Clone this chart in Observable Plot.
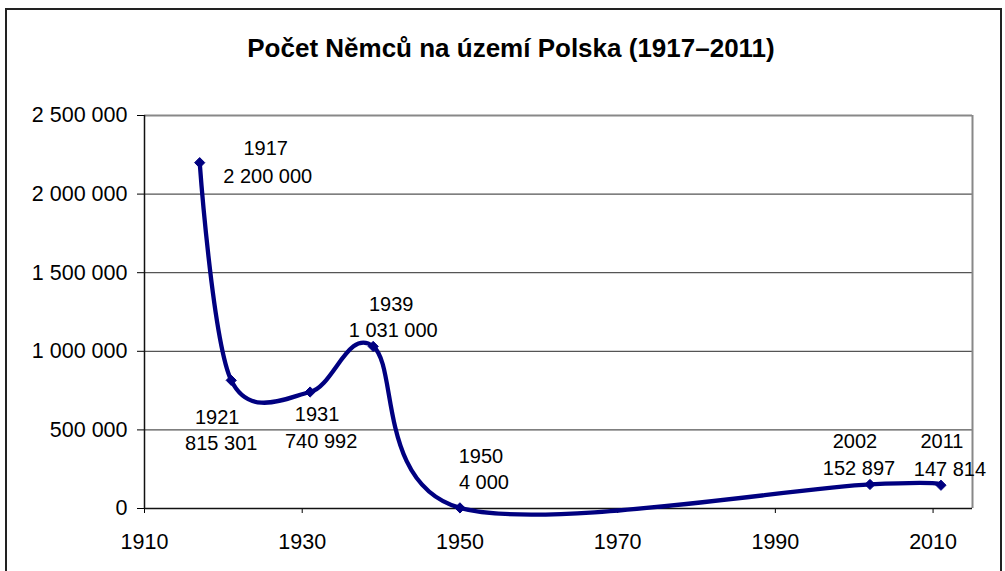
<!DOCTYPE html>
<html><head><meta charset="utf-8">
<script src="https://cdn.jsdelivr.net/npm/d3@7"></script>
<script src="https://cdn.jsdelivr.net/npm/@observablehq/plot@0.6"></script>
<style>
html,body{margin:0;padding:0;background:#fff;overflow:hidden;}
#wrap{position:relative;width:1005px;height:571px;overflow:hidden;font-family:"Liberation Sans",Arial,sans-serif;}
#frame{position:absolute;left:5px;top:8px;width:997px;height:600px;border:2px solid #222;box-sizing:border-box;}
#title{position:absolute;left:0;width:1022px;top:33px;line-height:30px;text-align:center;font-weight:bold;font-size:26px;color:#000;}
#chart{position:absolute;left:0;top:0;}
</style></head>
<body><div id="wrap"><div id="frame"></div><div id="chart"></div><div id="title">Počet Němců na území Polska (1917–2011)</div></div>
<script>
// data
const years = [1917, 1921, 1931, 1939, 1950, 2002, 2011];
const counts = [2200000, 815301, 740992, 1031000, 4000, 152897, 147814];
const xTicks = [1910, 1930, 1950, 1970, 1990, 2010];
const yTicks = [0, 500000, 1000000, 1500000, 2000000, 2500000];
// label placement (pixels: year dx, year dy, value dx, value dy)
const labelOffsets = [
  [66, -14, 68, 14],
  [-14, 37, -10, 63],
  [7, 23, 11, 50],
  [18, -42, 20, -16],
  [21, -51, 24, -25],
  [-15, -43, -11, -16],
  [1, -44, 9, -16]
];

const fmt = d3.formatLocale({decimal: ",", thousands: " ", grouping: [3], currency: ["", ""]}).format(",d");
const points = years.map((y, i) => ({year: y, value: counts[i]}));
const navy = "#000080";

const labelMarks = points.flatMap((p, i) => {
  const o = labelOffsets[i];
  return [
    Plot.text([p], {x: "year", y: "value", text: d => String(d.year), dx: o[0], dy: o[1], fontSize: 20, fill: "#000"}),
    Plot.text([p], {x: "year", y: "value", text: d => fmt(d.value), dx: o[2], dy: o[3], fontSize: 20, fill: "#000"})
  ];
});

const chart = Plot.plot({
  width: 1005,
  height: 571,
  marginTop: 115,
  marginBottom: 63,
  marginLeft: 144,
  marginRight: 33,
  style: {background: "transparent", fontFamily: "'Liberation Sans', Arial, sans-serif", fontSize: "21.5px", color: "#000"},
  x: {domain: [1910, 2015], ticks: xTicks, tickFormat: d => String(d), tickSize: 5, tickPadding: 20, label: null},
  y: {domain: [0, 2500000], ticks: yTicks, tickFormat: fmt, tickSize: 7, tickPadding: 10, label: null},
  marks: [
    Plot.ruleY(yTicks.slice(1, -1), {stroke: "#555", strokeWidth: 1.3}),
    Plot.ruleY([yTicks[yTicks.length - 1]], {stroke: "#888", strokeWidth: 2}),
    Plot.ruleX([2015], {stroke: "#888", strokeWidth: 2}),
    Plot.ruleY([0], {stroke: "#111", strokeWidth: 1.5}),
    Plot.ruleX([1910], {stroke: "#111", strokeWidth: 1.5}),
    Plot.line(points, {x: "year", y: "value", curve: "cardinal", stroke: navy, strokeWidth: 4.3, strokeLinejoin: "round", strokeLinecap: "round"}),
    Plot.dot(points, {x: "year", y: "value", symbol: "diamond2", r: 4.6, fill: navy, stroke: navy, strokeWidth: 1}),
    ...labelMarks
  ]
});
document.getElementById("chart").appendChild(chart);
</script>
</body></html>
